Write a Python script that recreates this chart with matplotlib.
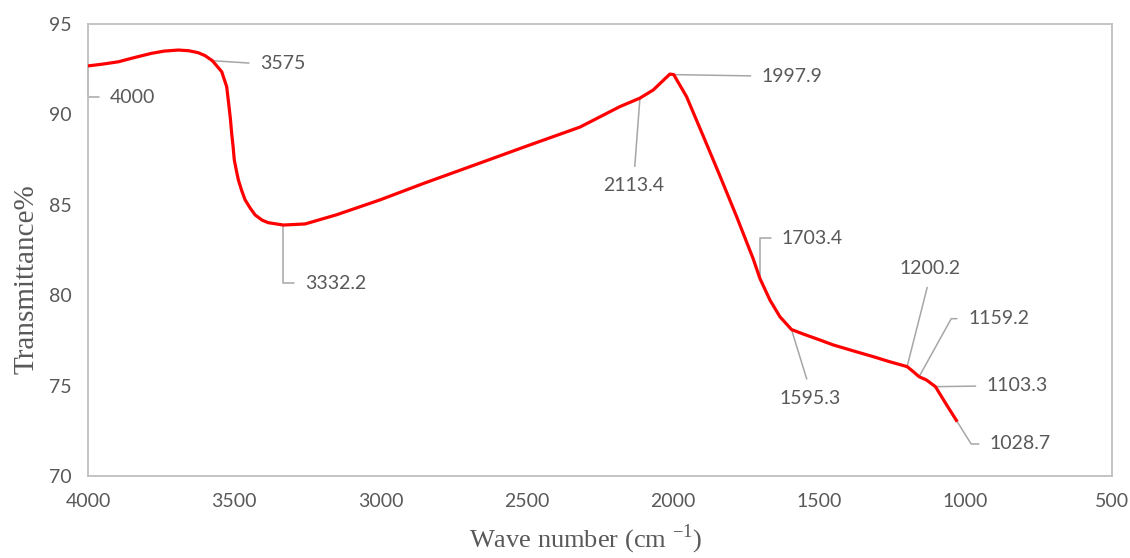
import matplotlib
matplotlib.use("Agg")
import matplotlib.pyplot as plt

plt.rcParams["mathtext.fontset"] = "custom"
plt.rcParams["mathtext.rm"] = "Liberation Serif"

# FTIR spectrum
wave = [4000, 3950, 3896, 3840, 3782, 3740, 3691, 3655, 3623, 3600, 3575, 3543,
        3526, 3518, 3513, 3509, 3504, 3500, 3493, 3486, 3475, 3463, 3445, 3429,
        3405, 3384, 3332.2, 3258, 3150, 3002, 2850, 2660, 2500, 2318, 2182,
        2113.4, 2068, 2011, 1997.9, 1954, 1897, 1840, 1783, 1726, 1703.4, 1669,
        1635, 1595.3, 1555, 1498, 1453, 1380, 1316, 1260, 1200.2, 1179, 1159.2,
        1134, 1103.3, 1065, 1028.7]
trans = [92.68, 92.78, 92.91, 93.15, 93.38, 93.5, 93.56, 93.52, 93.41, 93.25,
         92.97, 92.36, 91.53, 90.43, 89.7, 88.95, 88.2, 87.48, 86.9, 86.37,
         85.8, 85.27, 84.8, 84.44, 84.15, 84.01, 83.88, 83.94, 84.45, 85.27,
         86.2, 87.31, 88.25, 89.3, 90.43, 90.9, 91.35, 92.23, 92.2, 90.98, 88.8,
         86.6, 84.35, 82.0, 80.93, 79.73, 78.81, 78.1, 77.85, 77.52, 77.25,
         76.9, 76.6, 76.32, 76.05, 75.77, 75.49, 75.31, 74.94, 73.93, 73.0]

peak_labels = ["4000", "3575", "3332.2", "2113.4", "1997.9", "1703.4",
               "1595.3", "1200.2", "1159.2", "1103.3", "1028.7"]
peak_x = [4000, 3575, 3332.2, 2113.4, 1997.9, 1703.4, 1595.3, 1200.2, 1159.2, 1103.3, 1028.7]
peak_y = [92.68, 92.97, 83.88, 90.9, 92.2, 80.93, 78.1, 76.05, 75.49, 74.94, 73.0]

x_ticks = [4000, 3500, 3000, 2500, 2000, 1500, 1000, 500]
y_ticks = [70, 75, 80, 85, 90, 95]

txt_col = "#595959"
lead_col = "#a6a6a6"

fig = plt.figure(figsize=(11.30, 5.58), dpi=100)
ax = fig.add_axes([0.0779, 0.147, 0.9061, 0.810])

ax.plot(wave, trans, color="#ff0000", lw=2.3, solid_capstyle="butt",
        solid_joinstyle="round", zorder=3)

ax.set_xlim(4000, 500)
ax.set_ylim(70, 95)
ax.set_xticks(x_ticks)
ax.set_yticks(y_ticks)
ax.tick_params(length=0, labelsize=14, labelcolor=txt_col, pad=12)
for lab in ax.get_xticklabels() + ax.get_yticklabels():
    lab.set_family("Lato")
for sp in ax.spines.values():
    sp.set_color("#bfbfbf")
    sp.set_linewidth(1.3)

ax.set_xlabel("Wave number (cm $^{-1}$)", family="Liberation Serif",
              fontsize=19, color=txt_col)
ax.xaxis.set_label_coords(0.486, -0.104)
ax.set_ylabel("Transmittance%", family="Liberation Serif", fontsize=21,
              color=txt_col)
ax.yaxis.set_label_coords(-0.047, 0.435)

# label placement: text position (data coords), alignment, leader style
layout = {
    "4000":   ((3925, 90.96), "left", (0, 0.5), "angle,angleA=0,angleB=90,rad=0"),
    "3575":   ((3412, 92.8), "left", (0, 0.5), "arc3"),
    "3332.2": ((3258, 80.67), "left", (0, 0.5), "angle,angleA=0,angleB=90,rad=0"),
    "2113.4": ((2134, 86.04), "center", (0.5, 1), "arc3"),
    "1997.9": ((1697, 92.12), "left", (0, 0.5), "arc3"),
    "1703.4": ((1628, 83.16), "left", (0, 0.5), "angle,angleA=0,angleB=90,rad=0"),
    "1595.3": ((1532, 74.3), "center", (0.5, 1), "arc3"),
    "1200.2": ((1122, 81.5), "center", (0.5, 0), "arc3"),
    "1159.2": ((992, 78.7), "left", (0, 0.5), "angle,angleA=0,angleB=61,rad=0"),
    "1103.3": ((928, 74.98), "left", (0, 0.5), "arc3"),
    "1028.7": ((917, 71.77), "left", (0, 0.5), "angle,angleA=0,angleB=-58,rad=0"),
}

for lab, px, py in zip(peak_labels, peak_x, peak_y):
    pos, ha, rel, cs = layout[lab]
    ax.annotate(lab, xy=(px, py), xytext=pos, ha=ha, va="center",
                fontsize=14, family="Lato", color=txt_col,
                arrowprops=dict(arrowstyle="-", color=lead_col, lw=1.1,
                                shrinkA=6, shrinkB=0, relpos=rel,
                                connectionstyle=cs),
                zorder=2)

fig.savefig("out.png", dpi=100)
